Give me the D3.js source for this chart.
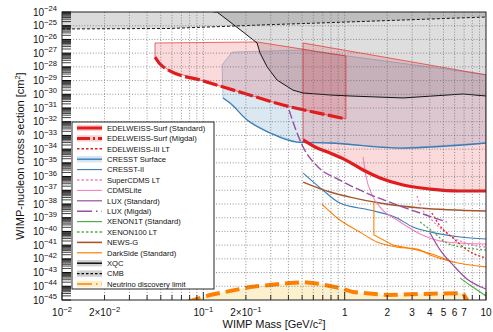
<!DOCTYPE html>
<html>
<head>
<meta charset="utf-8">
<script src="https://cdn.jsdelivr.net/npm/d3@7"></script>
<style>
  html, body { margin: 0; padding: 0; background: #fff; }
  svg { display: block; font-family: "Liberation Sans", Arial, Helvetica, sans-serif; }
</style>
</head>
<body>
<svg id="chart" width="493" height="332"></svg>
<script>
// ---- Exclusion limits: [WIMP mass (GeV/c²), cross section (cm²)] ----
const xqcLimit = [[0.118,1e-24],[0.125,1e-24],[0.191,3.5e-26],[0.240,5.5e-27],[0.252,1.0e-27],[0.283,9.8e-29],
  [0.332,1.1e-29],[0.431,2.0e-30],[0.508,1.24e-30],[0.788,8.9e-31],[1.09,7.5e-31],[2.59,5.4e-31],[6.88,1.05e-30],[10,7.5e-31]];
const cmbLimit = [[0.01,5.8e-26],[0.058,6.3e-26],[0.32,1.23e-25],[0.669,1.58e-25],[10,4.3e-25]];

const edwMigdalUpper = [[0.0455,5.5e-27],[0.240,6.5e-27],[1.02,6.2e-28]];
const edwMigdal = [[0.0455,5.2e-28],[0.0494,1.6e-28],[0.058,5.0e-29],[0.0948,1.1e-29],[0.191,1.24e-30],
  [0.366,1.66e-31],[0.75,3.1e-32],[1.02,1.6e-32]];
const edwStandardUpper = [[0.508,5.5e-27],[10,2.6e-29]];
const edwStandard = [[0.508,4.7e-34],[0.617,1.44e-34],[0.788,5.2e-35],[1.02,1.6e-35],[1.35,3.0e-36],
  [1.78,7.9e-37],[2.59,2.43e-37],[4.02,1.23e-37],[6.56,8.9e-38],[10,8.9e-38]];
const edwIIILT = [[4.14,2.2e-39],[4.73,2.5e-40],[5.85,3.3e-41],[7.33,4.5e-42],[10,1.15e-42]];

const cresstSurfaceUpper = [[0.1356,1.36e-28],[0.160,1.2e-27],[0.508,1.7e-27],[10,2.75e-29]];
const cresstSurface = [[0.1378,5.4e-31],[0.1545,2.3e-31],[0.204,1.33e-32],[0.297,1.5e-33],[0.459,3.3e-34],
  [0.788,2.8e-34],[2.47,1.2e-34],[10,2.8e-34]];
const cresstII = [[0.508,1.8e-36],[0.70,1.05e-37],[0.925,1.17e-38],[1.51,3.6e-39],[2.35,9.5e-40],
  [3.04,2.1e-40],[4.02,9.3e-41],[6.56,3.9e-41],[10,2.8e-41]];

const superCdmsLT = [[3.25,3.8e-38],[3.47,6.0e-39],[4.02,9.5e-40],[5.12,9.1e-41],[7.10,1.45e-41],[10,7.2e-42]];
const cdmsLite = [[1.35,2.7e-35],[1.41,1.3e-36],[1.56,4.6e-38],[1.78,6.0e-39],[2.47,4.9e-40],
  [3.42,6.6e-41],[5.28,1.7e-41],[10,1.2e-41]];

const luxStandard = [[4.02,7.8e-41],[4.73,4.5e-42],[5.85,3.5e-43],[7.33,3.4e-44],[10,6.3e-45]];
const luxMigdal = [[0.404,7.1e-32],[0.452,2.5e-33],[0.508,1.44e-34],[0.648,5.0e-36],[0.925,5.6e-37],
  [1.43,6.3e-38],[2.59,6.0e-39],[5.28,4.9e-40]];

const xenon1T = [[6.56,4.0e-44],[7.69,1.23e-44],[10,1.95e-45]];
const xenon100LT = [[3.42,4.9e-40],[4.21,9.3e-41],[5.28,1.45e-41],[7.33,6.2e-42],[10,4.5e-42]];

const newsG = [[0.508,4.0e-37],[0.788,7.5e-38],[1.09,3.2e-38],[1.78,1.17e-38],[3.42,5.1e-39],[10,3.1e-39]];

const darkSideLow = [[0.69,1.0e-38],[0.925,6.8e-40],[1.28,9.1e-41],[1.69,1.7e-41],[2.35,7.2e-42],
  [3.25,5.2e-42],[4.21,1.6e-42],[5.85,5.9e-43],[10,2.6e-43]];
const darkSideHigh = [[1.61,1.17e-38],[1.61,5.5e-41],[2.19,1.02e-41],[3.25,4.5e-42],[4.21,2.2e-42],[5.85,5.9e-43]];

const neutrinoFloor = [[0.0767,7.1e-46],[0.1115,2.3e-45],[0.214,8.9e-45],[0.411,1.74e-44],[0.508,2.0e-44],
  [0.669,1.48e-44],[0.925,7.4e-45],[1.15,3.8e-45],[1.99,2.3e-45],[3.42,2.75e-45],[6.88,3.2e-45],
  [7.33,1.0e-45],[7.5,6.3e-46]];

// ---- Axes ticks and legend text ----
const massDomain = [0.01, 10];
const sigmaDomain = [1e-45, 1e-24];
const xTickLabelValues = [0.01, 0.02, 0.1, 0.2, 1, 2, 3, 4, 5, 6, 7, 10];
const yDecades = d3.range(-45, -23); // 10^-45 ... 10^-24
const legendLabels = ["EDELWEISS-Surf (Standard)", "EDELWEISS-Surf (Migdal)", "EDELWEISS-III LT",
  "CRESST Surface", "CRESST-II", "SuperCDMS LT", "CDMSLite", "LUX (Standard)", "LUX (Migdal)",
  "XENON1T (Standard)", "XENON100 LT", "NEWS-G", "DarkSide (Standard)", "XQC", "CMB",
  "Neutrino discovery limit"];

// ---- Colours ----
const C = {
  red: "#e41a1c", blue: "#377eb8", green: "#4daf4a", purple: "#984ea3",
  orange: "#ff7f00", brown: "#a65628", pink: "#f781bf", black: "#000"
};

const svg = d3.select("#chart");
const x = d3.scaleLog().domain(massDomain).range([62, 486]);
const y = d3.scaleLog().domain(sigmaDomain).range([300, 12]);
const [xL, xR] = x.range();
const [yB, yT] = y.range();

svg.append("defs").append("clipPath").attr("id", "plot-clip")
  .append("rect").attr("x", xL).attr("y", yT).attr("width", xR - xL).attr("height", yB - yT);

const plot = svg.append("g").attr("clip-path", "url(#plot-clip)");

const line = d3.line().x(d => x(d[0])).y(d => y(d[1]));
const areaAbove = d3.area().x(d => x(d[0])).y0(y(sigmaDomain[1])).y1(d => y(d[1]));
const areaBelow = d3.area().x(d => x(d[0])).y0(y(sigmaDomain[0])).y1(d => y(d[1]));
const region = (upper, lower) => line(upper.concat(lower.slice().reverse())) + "Z";

// ---- Shaded regions ----
plot.append("path").attr("d", areaAbove(cmbLimit)).attr("fill", "#000").attr("fill-opacity", 0.14);
plot.append("path").attr("d", areaAbove(xqcLimit)).attr("fill", "#000").attr("fill-opacity", 0.13);
plot.append("path").attr("d", areaBelow(neutrinoFloor)).attr("fill", "#fcf1cf");

plot.append("path").attr("d", region(cresstSurfaceUpper, cresstSurface))
  .attr("fill", C.blue).attr("fill-opacity", 0.18)
  .attr("stroke", C.blue).attr("stroke-opacity", 0.45).attr("stroke-width", 0.8);
plot.append("path").attr("d", region(edwMigdalUpper, edwMigdal))
  .attr("fill", C.red).attr("fill-opacity", 0.16)
  .attr("stroke", C.red).attr("stroke-opacity", 0.8).attr("stroke-width", 0.8);
plot.append("path").attr("d", region(edwStandardUpper, edwStandard))
  .attr("fill", C.red).attr("fill-opacity", 0.16)
  .attr("stroke", C.red).attr("stroke-opacity", 0.8).attr("stroke-width", 0.8);

// ---- Grid ----
const gridMasses = [];
for (let e = -2; e < 1; e++) for (let k = 1; k < 10; k++) gridMasses.push(k * Math.pow(10, e));
const grid = svg.append("g").attr("stroke", "#666").attr("stroke-width", 0.7).attr("stroke-dasharray", "1,1.8");
grid.selectAll("line.v").data(gridMasses.filter(m => m > massDomain[0] * 1.001)).join("line")
  .attr("x1", d => x(d)).attr("x2", d => x(d)).attr("y1", yT).attr("y2", yB);
grid.selectAll("line.h").data(yDecades.slice(1, -1)).join("line")
  .attr("x1", xL).attr("x2", xR).attr("y1", d => y(Math.pow(10, d))).attr("y2", d => y(Math.pow(10, d)));

// ---- Limit curves ----
const curve = (data, color, width, dash, smooth = true) => {
  const gen = d3.line().x(d => x(d[0])).y(d => y(d[1]));
  if (smooth) gen.curve(d3.curveMonotoneX);
  const p = plot.append("path").attr("d", gen(data)).attr("fill", "none")
    .attr("stroke", color).attr("stroke-width", width);
  if (dash) p.attr("stroke-dasharray", dash);
  return p;
};

curve(xqcLimit, C.black, 0.9, null, false);
curve(cmbLimit, C.black, 0.9, "3,2", false);
curve(cresstSurface, C.blue, 1.3);
curve(cresstII, C.blue, 1.1);
curve(newsG, C.brown, 1.4);
curve(darkSideLow, C.orange, 1.1);
curve(darkSideHigh, C.orange, 1.1, null, false);
curve(cdmsLite, C.pink, 1.1);
curve(superCdmsLT, C.pink, 1.3, "2,2");
curve(edwIIILT, C.red, 1.3, "2,2");
curve(xenon100LT, C.green, 1.3, "2,2");
curve(luxStandard, C.purple, 1.2);
curve(xenon1T, C.green, 1.2);
curve(luxMigdal, C.purple, 1.4, "9,3");
curve(edwStandard, C.red, 3.2);
curve(edwMigdal, C.red, 3.2, "15,3.5");
curve(neutrinoFloor, C.orange, 4, "14,6", false);

// ---- Frame and ticks ----
const axes = svg.append("g");
const minorMasses = gridMasses.concat([10]);
axes.selectAll("line.xt").data(minorMasses).join("line")
  .attr("x1", d => x(d)).attr("x2", d => x(d))
  .attr("y1", yB).attr("y2", d => Math.abs(Math.log10(d) % 1) < 1e-9 ? yB - 8 : yB - 5)
  .attr("stroke", "#000").attr("stroke-width", 0.8);

const yMinor = [];
for (let e = -45; e < -24; e++) for (let k = 1; k < 10; k++) yMinor.push(k * Math.pow(10, e));
yMinor.push(1e-24);
axes.selectAll("line.yt").data(yMinor).join("line")
  .attr("x1", xL).attr("x2", xL + 9)
  .attr("y1", d => y(d)).attr("y2", d => y(d))
  .attr("stroke", "#000").attr("stroke-width", (d, i) => i % 9 === 0 ? 1 : 0.75);

axes.append("rect").attr("x", xL).attr("y", yT).attr("width", xR - xL).attr("height", yB - yT)
  .attr("fill", "none").attr("stroke", "#222").attr("stroke-width", 1);

// y tick labels: 10^n
const yLab = axes.selectAll("text.yl").data(yDecades).join("text")
  .attr("x", xL - 5).attr("y", d => y(Math.pow(10, d)) + 3.6)
  .attr("text-anchor", "end").attr("font-size", 10).attr("fill", "#111");
yLab.append("tspan").text("10");
yLab.append("tspan").attr("dy", -4.5).attr("font-size", 7.6).text(d => "\u2212" + Math.abs(d));

// x tick labels
const xLab = axes.selectAll("text.xl").data(xTickLabelValues).join("text")
  .attr("x", d => x(d)).attr("y", 316)
  .attr("text-anchor", "middle").attr("font-size", 10).attr("fill", "#111");
xLab.each(function(v) {
  const t = d3.select(this);
  if (v >= 1) { t.text(String(v)); return; }
  const e = Math.floor(Math.log10(v) + 1e-9);
  const m = Math.round(v / Math.pow(10, e));
  t.append("tspan").text(m === 1 ? "10" : m + "\u00d710");
  t.append("tspan").attr("dy", -4.5).attr("font-size", 7.6).text("\u2212" + Math.abs(e));
});

// axis titles
const xTitle = svg.append("text").attr("x", (xL + xR) / 2).attr("y", 328)
  .attr("text-anchor", "middle").attr("font-size", 11).attr("fill", "#111");
xTitle.append("tspan").text("WIMP Mass [GeV/c");
xTitle.append("tspan").attr("dy", -4).attr("font-size", 7.5).text("2");
xTitle.append("tspan").attr("dy", 4).text("]");

const yTitle = svg.append("text")
  .attr("transform", `translate(24,${(yT + yB) / 2}) rotate(-90)`)
  .attr("text-anchor", "middle").attr("font-size", 11).attr("fill", "#111");
yTitle.append("tspan").text("WIMP-nucleon cross section [cm");
yTitle.append("tspan").attr("dy", -4).attr("font-size", 7.5).text("2");
yTitle.append("tspan").attr("dy", 4).text("]");

// ---- Legend ----
const legendStyle = {
  "EDELWEISS-Surf (Standard)": { stroke: C.red, width: 3, band: [C.red, 0.2] },
  "EDELWEISS-Surf (Migdal)": { stroke: C.red, width: 3, dash: "13,3,2,3", band: [C.red, 0.2] },
  "EDELWEISS-III LT": { stroke: C.red, width: 1.4, dash: "2.5,2" },
  "CRESST Surface": { stroke: C.blue, width: 1.4, band: [C.blue, 0.2] },
  "CRESST-II": { stroke: C.blue, width: 1.1 },
  "SuperCDMS LT": { stroke: C.pink, width: 1.4, dash: "2.5,2" },
  "CDMSLite": { stroke: C.pink, width: 1.1 },
  "LUX (Standard)": { stroke: C.purple, width: 1.2 },
  "LUX (Migdal)": { stroke: C.purple, width: 1.4, dash: "15,4,1.5,4" },
  "XENON1T (Standard)": { stroke: C.green, width: 1.2 },
  "XENON100 LT": { stroke: C.green, width: 1.4, dash: "2.5,2" },
  "NEWS-G": { stroke: C.brown, width: 1.6 },
  "DarkSide (Standard)": { stroke: C.orange, width: 1.2 },
  "XQC": { stroke: C.black, width: 1.4, band: ["#000", 0.18] },
  "CMB": { stroke: C.black, width: 1.4, dash: "2.5,2", band: ["#000", 0.18] },
  "Neutrino discovery limit": { stroke: C.orange, width: 1.4, dash: "15,4,1.5,4", band: ["#f7d98a", 0.45] }
};

const lg = svg.append("g").attr("transform", "translate(72,122)");
const rowH = 10.4;
lg.append("rect").attr("width", 142).attr("height", 167)
  .attr("fill", "#fff").attr("stroke", "#111").attr("stroke-width", 0.9);
const rows = lg.selectAll("g.row").data(legendLabels).join("g")
  .attr("transform", (d, i) => `translate(0,${6 + i * rowH})`);
rows.each(function(name) {
  const g = d3.select(this);
  const s = legendStyle[name];
  if (s.band) g.append("rect").attr("x", 5).attr("y", -3.2).attr("width", 25).attr("height", 6.4)
    .attr("fill", s.band[0]).attr("fill-opacity", s.band[1]);
  const l = g.append("line").attr("x1", 5).attr("x2", 30).attr("y1", 0).attr("y2", 0)
    .attr("stroke", s.stroke).attr("stroke-width", s.width);
  if (s.dash) l.attr("stroke-dasharray", s.dash);
  g.append("text").attr("x", 35).attr("y", 2.7).attr("font-size", 7.6).attr("fill", "#111").text(name);
});
</script>
</body>
</html>
